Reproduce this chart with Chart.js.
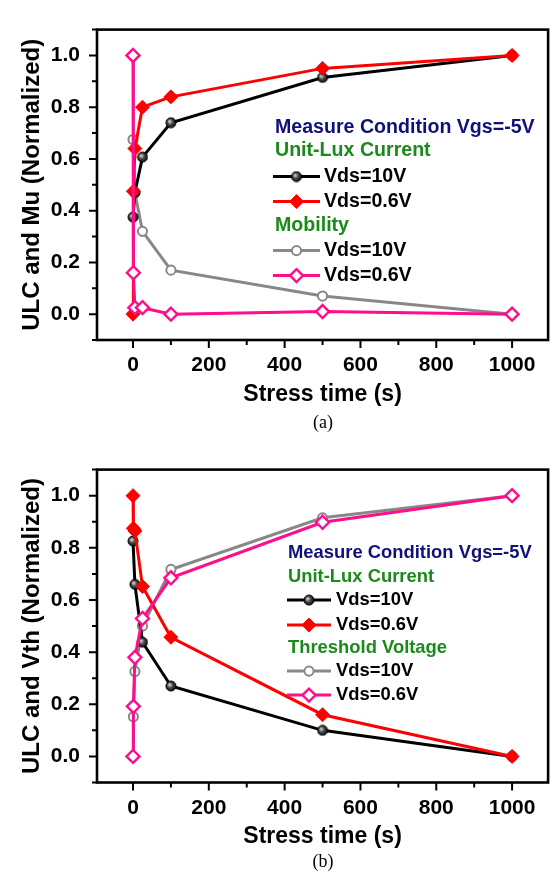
<!DOCTYPE html>
<html>
<head>
<meta charset="utf-8">
<script src="https://cdn.jsdelivr.net/npm/chart.js@4.4.1/dist/chart.umd.min.js"></script>
<style>
body { margin: 0; background: #fff; }
.panel { position: relative; width: 557px; }
.cap { position: absolute; left: 97px; width: 452px; text-align: center; font: 18px "Liberation Serif", "Times New Roman", serif; color: #000; }
</style>
</head>
<body>
<div class="panel" style="height:440px">
  <canvas id="chartA" width="557" height="440"></canvas>
  <div class="cap" style="top:412px">(a)</div>
</div>
<div class="panel" style="height:442px">
  <canvas id="chartB" width="557" height="442"></canvas>
  <div class="cap" style="top:411px">(b)</div>
</div>
<script>
// (a) ULC and mobility
var ulc10TimeA = [0, 5, 25, 100, 500, 1000];
var ulc10A = [0.375, 0.47, 0.607, 0.74, 0.915, 1.0];
var ulc06TimeA = [0, 1, 5, 25, 100, 500, 1000];
var ulc06A = [0.0, 0.475, 0.64, 0.80, 0.84, 0.95, 1.0];
var mu10TimeA = [0, 5, 25, 100, 500, 1000];
var mu10A = [0.675, 0.47, 0.32, 0.17, 0.07, 0.0];
var mu06TimeA = [0, 1, 5, 25, 100, 500, 1000];
var mu06A = [1.0, 0.16, 0.025, 0.025, 0.0, 0.01, 0.0];

// (b) ULC and threshold voltage
var ulc10TimeB = [0, 5, 25, 100, 500, 1000];
var ulc10B = [0.826, 0.66, 0.438, 0.27, 0.10, 0.0];
var ulc06TimeB = [0, 1, 5, 25, 100, 500, 1000];
var ulc06B = [1.0, 0.875, 0.865, 0.652, 0.457, 0.16, 0.0];
var vth10TimeB = [0, 1, 5, 25, 100, 500, 1000];
var vth10B = [0.0, 0.152, 0.326, 0.50, 0.717, 0.915, 1.0];
var vth06TimeB = [0, 1, 5, 25, 100, 500, 1000];
var vth06B = [0.0, 0.192, 0.38, 0.529, 0.685, 0.898, 1.0];

var xTickValues = [0, 100, 200, 300, 400, 500, 600, 700, 800, 900, 1000];
var yTickValues = [-0.1, 0.0, 0.1, 0.2, 0.3, 0.4, 0.5, 0.6, 0.7, 0.8, 0.9, 1.0, 1.1];

Chart.defaults.font.family = 'Arial, "Liberation Sans", sans-serif';
Chart.defaults.color = '#000';

function pts(t, v) {
    return t.map(function(x, i) { return { x: x, y: v[i] }; });
}

// shaded black ball used for the 10V ULC points
function ballImage() {
    var c = document.createElement('canvas');
    c.width = 12; c.height = 12;
    var g = c.getContext('2d');
    var grad = g.createRadialGradient(4.5, 4.5, 0.5, 6, 6, 6);
    grad.addColorStop(0, '#d0d0d0');
    grad.addColorStop(0.45, '#404040');
    grad.addColorStop(1, '#000');
    g.beginPath();
    g.arc(6, 6, 5, 0, Math.PI * 2);
    g.fillStyle = grad;
    g.fill();
    g.lineWidth = 1;
    g.strokeStyle = '#000';
    g.stroke();
    return c;
}
var ball = ballImage();

function series(data, color, style) {
    var ds = {
        data: data, borderColor: color, borderWidth: 3, tension: 0, fill: false,
        showLine: true, pointHoverRadius: 0
    };
    if (style === 'ball') {
        ds.pointStyle = ball; ds.pointRadius = 5;
    } else if (style === 'diamond') {
        ds.pointStyle = 'rectRot'; ds.pointRadius = 7; ds.pointBackgroundColor = color;
        ds.pointBorderColor = color; ds.pointBorderWidth = 1;
    } else if (style === 'openCircle') {
        ds.pointStyle = 'circle'; ds.pointRadius = 4.6; ds.pointBackgroundColor = '#fff';
        ds.pointBorderColor = color; ds.pointBorderWidth = 2;
    } else {
        ds.pointStyle = 'rectRot'; ds.pointRadius = 6.5; ds.pointBackgroundColor = '#fff';
        ds.pointBorderColor = color; ds.pointBorderWidth = 2.4;
    }
    return ds;
}

function drawMarker(ctx, ds, x, y) {
    var st = ds.pointStyle, r = ds.pointRadius;
    if (typeof st === 'object') {
        ctx.drawImage(st, x - st.width / 2, y - st.height / 2);
        return;
    }
    ctx.beginPath();
    if (st === 'circle') {
        ctx.arc(x, y, r, 0, Math.PI * 2);
    } else {
        ctx.moveTo(x - r, y); ctx.lineTo(x, y - r); ctx.lineTo(x + r, y); ctx.lineTo(x, y + r);
        ctx.closePath();
    }
    ctx.fillStyle = ds.pointBackgroundColor;
    ctx.fill();
    ctx.lineWidth = ds.pointBorderWidth;
    ctx.strokeStyle = ds.pointBorderColor;
    ctx.stroke();
}

// frame, tick marks and the grouped legend
var framePlugin = {
    id: 'frame',
    afterDraw: function(chart) {
        var ctx = chart.ctx, a = chart.chartArea;
        var xs = chart.scales.x, ys = chart.scales.y;
        ctx.save();
        ctx.strokeStyle = '#000';
        ctx.lineWidth = 2.6;
        ctx.strokeRect(a.left, a.top, a.right - a.left, a.bottom - a.top);
        ctx.lineWidth = 2;
        ctx.beginPath();
        ys.ticks.forEach(function(t) {
            var y = ys.getPixelForValue(t.value);
            var len = t.label ? 8 : 5;
            ctx.moveTo(a.left, y); ctx.lineTo(a.left - len, y);
        });
        xs.ticks.forEach(function(t) {
            var x = xs.getPixelForValue(t.value);
            var len = t.label ? 8 : 5;
            ctx.moveTo(x, a.bottom); ctx.lineTo(x, a.bottom + len);
        });
        ctx.stroke();

        var lg = chart.options.plugins.frame;
        var ds = chart.data.datasets;
        ctx.font = 'bold ' + lg.size + 'px Arial, "Liberation Sans", sans-serif';
        ctx.textBaseline = 'middle';
        ctx.textAlign = 'left';
        lg.rows.forEach(function(row, i) {
            var y = a.top + lg.rowY[i];
            if (row.text) {
                ctx.fillStyle = row.color;
                ctx.fillText(row.text, a.left + lg.headX, y);
            } else {
                var d = ds[row.ds];
                ctx.beginPath();
                ctx.strokeStyle = d.borderColor;
                ctx.lineWidth = 3;
                ctx.moveTo(a.left + lg.x0, y); ctx.lineTo(a.left + lg.x1, y);
                ctx.stroke();
                drawMarker(ctx, d, a.left + (lg.x0 + lg.x1) / 2, y);
                ctx.fillStyle = '#000';
                ctx.fillText(row.label, a.left + lg.textX, y);
            }
        });
        ctx.restore();
    }
};

function makeChart(id, datasets, yTitle, padTop, xHeight, legend) {
    return new Chart(document.getElementById(id), {
        type: 'scatter',
        data: { datasets: datasets },
        options: {
            responsive: false,
            animation: false,
            layout: { padding: { top: padTop, right: 8, left: 0, bottom: 0 } },
            plugins: { legend: { display: false }, tooltip: { enabled: false }, frame: legend },
            scales: {
                x: {
                    type: 'linear', min: -95, max: 1095,
                    afterBuildTicks: function(s) {
                        s.ticks = xTickValues.map(function(v) { return { value: v }; });
                    },
                    afterFit: function(s) { s.height = xHeight; },
                    grid: { display: false, drawTicks: false },
                    border: { display: false },
                    ticks: {
                        autoSkip: false, maxRotation: 0, padding: 13,
                        font: { size: 21, weight: 'bold' },
                        callback: function(v) { return (v % 200 === 0) ? String(v) : ''; }
                    },
                    title: {
                        display: true, text: 'Stress time (s)',
                        font: { size: 23, weight: 'bold' }, padding: { top: 0, bottom: 32 }
                    }
                },
                y: {
                    type: 'linear', min: -0.1, max: 1.1,
                    afterBuildTicks: function(s) {
                        s.ticks = yTickValues.map(function(v) { return { value: v }; });
                    },
                    afterFit: function(s) { s.width = 97; },
                    grid: { display: false, drawTicks: false },
                    border: { display: false },
                    ticks: {
                        autoSkip: false, padding: 17,
                        font: { size: 21, weight: 'bold' },
                        callback: function(v) {
                            var i = Math.round(v * 10);
                            return (i >= 0 && i <= 10 && i % 2 === 0) ? (i / 10).toFixed(1) : '';
                        }
                    },
                    title: {
                        display: true, text: yTitle,
                        font: { size: 24, weight: 'bold' }, padding: { top: 18, bottom: 0 }
                    }
                }
            }
        },
        plugins: [framePlugin]
    });
}

makeChart('chartA', [
    series(pts(mu06TimeA, mu06A), '#ff0d8c', 'openDiamond'),
    series(pts(ulc06TimeA, ulc06A), '#ff0000', 'diamond'),
    series(pts(ulc10TimeA, ulc10A), '#000000', 'ball'),
    series(pts(mu10TimeA, mu10A), '#888888', 'openCircle')
], 'ULC and Mu (Normalized)', 4, 100, {
    size: 19.6, headX: 178, x0: 176, x1: 223, textX: 227,
    rowY: [98, 121, 147, 172, 196, 221, 246],
    rows: [
        { text: 'Measure Condition Vgs=-5V', color: '#10107a' },
        { text: 'Unit-Lux Current', color: '#1a8a1a' },
        { ds: 2, label: 'Vds=10V' },
        { ds: 1, label: 'Vds=0.6V' },
        { text: 'Mobility', color: '#1a8a1a' },
        { ds: 3, label: 'Vds=10V' },
        { ds: 0, label: 'Vds=0.6V' }
    ]
});

makeChart('chartB', [
    series(pts(vth06TimeB, vth06B), '#ff0d8c', 'openDiamond'),
    series(pts(ulc06TimeB, ulc06B), '#ff0000', 'diamond'),
    series(pts(ulc10TimeB, ulc10B), '#000000', 'ball'),
    series(pts(vth10TimeB, vth10B), '#888888', 'openCircle')
], 'ULC and Vth (Normalized)', 11.5, 99.5, {
    size: 18.4, headX: 191, x0: 190, x1: 234, textX: 239,
    rowY: [83.5, 107.5, 130.5, 155.5, 178.5, 201.5, 225.5],
    rows: [
        { text: 'Measure Condition Vgs=-5V', color: '#10107a' },
        { text: 'Unit-Lux Current', color: '#1a8a1a' },
        { ds: 2, label: 'Vds=10V' },
        { ds: 1, label: 'Vds=0.6V' },
        { text: 'Threshold Voltage', color: '#1a8a1a' },
        { ds: 3, label: 'Vds=10V' },
        { ds: 0, label: 'Vds=0.6V' }
    ]
});
</script>
</body>
</html>
